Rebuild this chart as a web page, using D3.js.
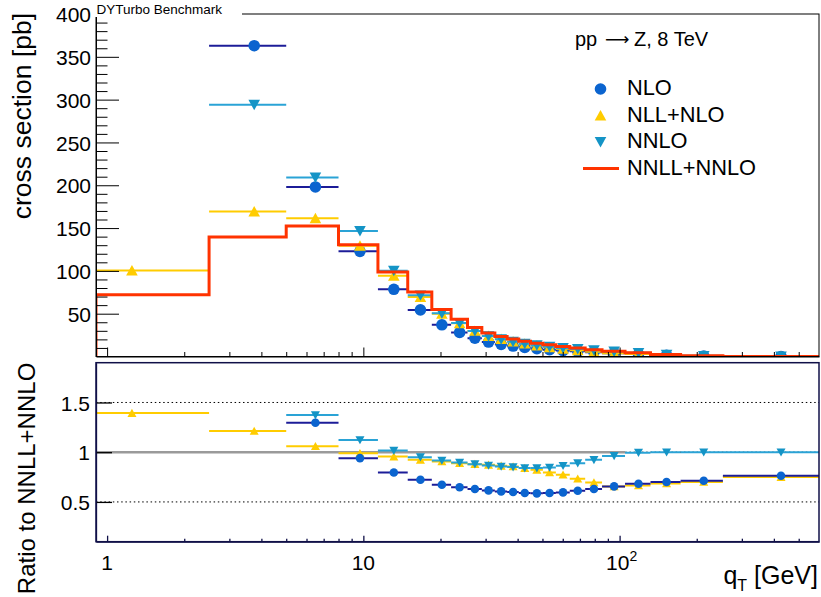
<!DOCTYPE html>
<html><head><meta charset="utf-8">
<script src="https://cdn.jsdelivr.net/npm/d3@7"></script>
<style>
body{margin:0;background:#fff}
svg{display:block}
text{font-family:"Liberation Sans",Arial,Helvetica,sans-serif;fill:#000}
</style>
</head><body>
<svg id="c" width="821" height="597"></svg>
<script>
// ---------------- data ----------------
const binEdges = [0,2.5,5,8,11.4,14.9,18.5,22,25.5,29,32.6,36.4,40.4,44.9,50.2,56.4,63.9,73.4,85.4,105,132,173,253,600];
const seriesNames = ["NLO","NLL+NLO","NNLO","NNLL+NNLO"];
// cross sections [pb]
const nnllNnlo = [72,139.5,152.4,130.6,98.6,75.2,55,43.5,34,27.5,23.5,20.3,17.8,15.6,13.6,11.6,9.8,8.0,6.0,4.3,2.2,0.8,0.1];
const nlo      = [null,363,198,122.8,78.5,54.4,37.0,28.1,21.4,16.9,14.2,12.2,10.5,9.1,8.0,6.9,6.0,5.0,3.9,2.9,1.5,0.57,0.08];
const nllNlo   = [100.3,169.4,161.5,129.3,94.3,69.4,49.8,38.7,29.9,24.0,20.3,17.4,15.0,12.8,10.8,9.0,7.2,5.6,3.9,2.9,1.5,0.56,0.08];
const nnlo     = [null,294,209,146.7,100.2,71.4,50.4,39.0,29.9,23.8,20.1,17.3,15.0,13.1,11.5,10.0,8.7,7.4,5.8,4.3,2.2,0.8,0.1];
// ratios to NNLL+NNLO
const ratioNlo    = [null,null,1.296,0.94,0.796,0.723,0.673,0.647,0.63,0.616,0.606,0.60,0.59,0.586,0.59,0.596,0.613,0.63,0.656,0.683,0.70,0.713,0.763];
const ratioNllNlo = [1.393,1.213,1.06,0.99,0.956,0.923,0.906,0.89,0.88,0.873,0.863,0.856,0.84,0.823,0.796,0.773,0.733,0.696,0.655,0.665,0.685,0.70,0.75];
const ratioNnlo   = [null,null,1.373,1.123,1.016,0.95,0.916,0.896,0.88,0.866,0.856,0.85,0.84,0.84,0.846,0.863,0.89,0.923,0.963,0.995,1.0,1.0,1.0];
// ticks
const yTicksTop = [50,100,150,200,250,300,350,400];
const yTicksRatio = [0.5,1,1.5];
const xMajor = [1,10,100];
const xMinor = [2,3,4,5,6,7,8,9,20,30,40,50,60,70,80,90,200,300,400,500];
const xTickLabels = [{v:1,base:"1",sup:""},{v:10,base:"10",sup:""},{v:100,base:"10",sup:"2"}];

// ---------------- layout ----------------
const svg = d3.select("#c");
const xMin = 0.905, xMax = 600;
const L = 96, R = 819;
const T0 = 14, T1 = 356.5;     // top panel
const B0 = 362.7, B1 = 541.7;  // ratio panel
const x  = d3.scaleLog().domain([xMin,xMax]).range([L,R]);
const yT = d3.scaleLinear().domain([0,400]).range([T1,T0]);
const yR = d3.scaleLinear().domain([0.1,1.9]).range([B1,B0]);

const defs = svg.append("defs");
defs.append("clipPath").attr("id","clipT").append("rect").attr("x",L).attr("y",T0).attr("width",R-L).attr("height",T1-T0);
defs.append("clipPath").attr("id","clipB").append("rect").attr("x",L).attr("y",B0).attr("width",R-L).attr("height",B1-B0);

const bins = d3.range(binEdges.length-1).map(i=>({
  lo: Math.max(binEdges[i], xMin), hi: binEdges[i+1], mid: (binEdges[i]+binEdges[i+1])/2
}));

const styles = {
  "NLO":      {bar:"#1c1c98", fill:"#0b64cf", shape:"circle"},
  "NLL+NLO":  {bar:"#ffcc00", fill:"#ffcc00", shape:"up"},
  "NNLO":     {bar:"#2aa3d6", fill:"#1494c6", shape:"down"},
  "NNLL+NNLO":{line:"#ff3300"}
};

function marker(g, shape, cx, cy, s, fill){
  if(shape==="circle"){
    g.append("circle").attr("cx",cx).attr("cy",cy).attr("r",s).attr("fill",fill);
  } else {
    const d = shape==="up"
      ? `M${cx-s},${cy+s*0.85}L${cx+s},${cy+s*0.85}L${cx},${cy-s*0.95}Z`
      : `M${cx-s},${cy-s*0.85}L${cx+s},${cy-s*0.85}L${cx},${cy+s*0.95}Z`;
    g.append("path").attr("d",d).attr("fill",fill);
  }
}

function drawSeries(g, vals, ys, name, size, barW){
  const st = styles[name];
  const gg = g.append("g");
  bins.forEach((b,i)=>{
    const v = vals[i];
    if(v===null) return;
    gg.append("line").attr("x1",x(b.lo)).attr("x2",x(b.hi)).attr("y1",ys(v)).attr("y2",ys(v))
      .attr("stroke",st.bar).attr("stroke-width",barW);
  });
  bins.forEach((b,i)=>{
    const v = vals[i];
    if(v===null) return;
    marker(gg, st.shape, x(b.mid), ys(v), size, st.fill);
  });
}

// ---------------- top panel ----------------
const gTop = svg.append("g").attr("clip-path","url(#clipT)");
drawSeries(gTop, nlo, yT, "NLO", 5.8, 2);
drawSeries(gTop, nllNlo, yT, "NLL+NLO", 5.8, 2);
drawSeries(gTop, nnlo, yT, "NNLO", 5.8, 2);
const pts = [[x(xMin), yT(0)]];
bins.forEach((b,i)=>{ pts.push([x(b.lo), yT(nnllNnlo[i])]); pts.push([x(b.hi), yT(nnllNnlo[i])]); });
pts.push([x(xMax), yT(0)]);
gTop.append("path").attr("d", d3.line()(pts)).attr("fill","none")
  .attr("stroke",styles["NNLL+NNLO"].line).attr("stroke-width",3).attr("stroke-linejoin","miter");

// top axes
const axTop = svg.append("g").attr("transform",`translate(0,${T1})`);
axTop.call(d3.axisBottom(x).tickValues(xMajor).tickSize(-9).tickSizeOuter(0).tickFormat(""));
const axTop2 = svg.append("g").attr("transform",`translate(0,${T1})`);
axTop2.call(d3.axisBottom(x).tickValues(xMinor).tickSize(-4.5).tickSizeOuter(0).tickFormat(""));
axTop2.select(".domain").remove();

const ayTop = svg.append("g").attr("transform",`translate(${L},0)`);
ayTop.call(d3.axisLeft(yT).tickValues(yTicksTop).tickSize(-23).tickSizeOuter(0).tickPadding(5).tickFormat(d3.format("d")));
const ayTop2 = svg.append("g").attr("transform",`translate(${L},0)`);
ayTop2.call(d3.axisLeft(yT).tickValues(d3.range(10,400,10).filter(v=>v%50!==0)).tickSize(-11.5).tickSizeOuter(0).tickFormat(""));
ayTop2.select(".domain").remove();
[axTop,axTop2,ayTop,ayTop2].forEach(a=>{
  a.selectAll("line,path").attr("stroke","#000").attr("stroke-width",1);
  a.selectAll("text").attr("font-size",21).attr("font-family",null).attr("fill","#000");
});
ayTop.selectAll("text").attr("dy","0.36em");

svg.append("rect").attr("x",L).attr("y",T0).attr("width",R-L).attr("height",T1-T0)
  .attr("fill","none").attr("stroke","#000").attr("stroke-width",1);

// title box
svg.append("rect").attr("x",L-4).attr("y",0).attr("width",150).attr("height",T0+3).attr("fill","#fff");
svg.append("text").attr("x",L+0.5).attr("y",13.5).attr("font-size",13.5).text("DYTurbo Benchmark");

// y title top
svg.append("text").attr("transform",`translate(31,${T0-1}) rotate(-90)`).attr("text-anchor","end")
  .attr("font-size",26.5).text("cross section [pb]");

// legend
svg.append("text").attr("x",575).attr("y",46).attr("font-size",20).text("pp");
svg.append("text").attr("x",605).attr("y",45).attr("style","font-family:'DejaVu Sans';font-size:17px").text("\u27F6");
svg.append("text").attr("x",634).attr("y",46).attr("font-size",20).text("Z, 8 TeV");
const lg = svg.append("g");
const legRows = [95,121.5,148,175];
seriesNames.forEach((n,i)=>{
  const yb = legRows[i];
  const st = styles[n];
  if(st.shape){ marker(lg, st.shape, 600.5, yb-6, 5.8, st.fill); }
  else { lg.append("line").attr("x1",583).attr("x2",619).attr("y1",yb-6.5).attr("y2",yb-6.5).attr("stroke",st.line).attr("stroke-width",3); }
  lg.append("text").attr("x",627).attr("y",yb).attr("font-size",21.8).text(n);
});

// ---------------- ratio panel ----------------
const gB = svg.append("g").attr("clip-path","url(#clipB)");
yTicksRatio.forEach(v=>{
  gB.append("line").attr("x1",L).attr("x2",R).attr("y1",yR(v)).attr("y2",yR(v))
    .attr("stroke","#000").attr("stroke-width",1).attr("stroke-dasharray","1.5,2.7");
});
gB.append("line").attr("x1",x(xMin)).attr("x2",x(105)).attr("y1",yR(1)).attr("y2",yR(1))
  .attr("stroke","#9a9a9a").attr("stroke-width",2.5);
drawSeries(gB, ratioNllNlo, yR, "NLL+NLO", 4.5, 2);
drawSeries(gB, ratioNlo, yR, "NLO", 4.3, 2);
drawSeries(gB, ratioNnlo, yR, "NNLO", 4.5, 2);

const frameCol = "#101048";
const axB = svg.append("g").attr("transform",`translate(0,${B1})`);
axB.call(d3.axisBottom(x).tickValues(xMajor).tickSize(-6).tickSizeOuter(0).tickFormat(""));
const axB2 = svg.append("g").attr("transform",`translate(0,${B1})`);
axB2.call(d3.axisBottom(x).tickValues(xMinor).tickSize(-3).tickSizeOuter(0).tickFormat(""));
axB2.select(".domain").remove();
const ayB = svg.append("g").attr("transform",`translate(${L},0)`);
ayB.call(d3.axisLeft(yR).tickValues(yTicksRatio).tickSize(-16).tickSizeOuter(0).tickPadding(6).tickFormat(d=>String(d)));
[axB,axB2,ayB].forEach(a=>{
  a.selectAll("line,path").attr("stroke",frameCol).attr("stroke-width",1.3);
  a.selectAll("text").attr("font-size",21).attr("font-family",null).attr("fill","#000");
});
ayB.selectAll("text").attr("dy","0.36em");
ayB.selectAll("line").attr("stroke","#000");
svg.append("rect").attr("x",L).attr("y",B0).attr("width",R-L).attr("height",B1-B0)
  .attr("fill","none").attr("stroke",frameCol).attr("stroke-width",1.5);

// x tick labels
xTickLabels.forEach(t=>{
  const tx = svg.append("text").attr("x",x(t.v) + (t.sup?2:0)).attr("y",570).attr("font-size",21).attr("text-anchor","middle");
  tx.append("tspan").text(t.base);
  if(t.sup) tx.append("tspan").attr("font-size",14).attr("dy",-9).text(t.sup);
});

// axis titles
const xt = svg.append("text").attr("x",818).attr("y",584).attr("text-anchor","end").attr("font-size",25);
xt.append("tspan").text("q");
xt.append("tspan").attr("font-size",16).attr("dy",7).text("T");
xt.append("tspan").attr("dy",-7).text(" [GeV]");

svg.append("text").attr("transform",`translate(35,${B0}) rotate(-90)`).attr("text-anchor","end")
  .attr("font-size",24).text("Ratio to NNLL+NNLO");
</script>
</body></html>
